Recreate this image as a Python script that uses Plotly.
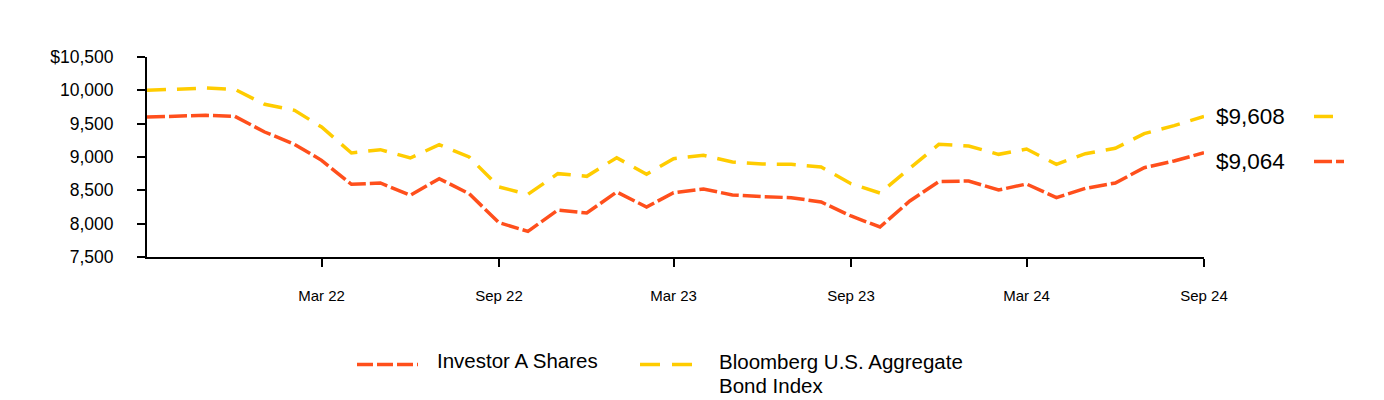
import plotly.graph_objects as go

months = [
    "2021-09-01", "2021-10-01", "2021-11-01", "2021-12-01",
    "2022-01-01", "2022-02-01", "2022-03-01", "2022-04-01", "2022-05-01", "2022-06-01",
    "2022-07-01", "2022-08-01", "2022-09-01", "2022-10-01", "2022-11-01", "2022-12-01",
    "2023-01-01", "2023-02-01", "2023-03-01", "2023-04-01", "2023-05-01", "2023-06-01",
    "2023-07-01", "2023-08-01", "2023-09-01", "2023-10-01", "2023-11-01", "2023-12-01",
    "2024-01-01", "2024-02-01", "2024-03-01", "2024-04-01", "2024-05-01", "2024-06-01",
    "2024-07-01", "2024-08-01", "2024-09-01",
]
investor_a = [9600, 9606, 9625, 9610, 9375, 9190, 8950, 8590, 8610, 8425, 8675, 8450,
              8015, 7885, 8205, 8160, 8475, 8250, 8465, 8520, 8430, 8405, 8390, 8325,
              8115, 7950, 8340, 8630, 8640, 8505, 8595, 8390, 8530, 8610, 8840, 8940, 9064]
bloomberg = [10000, 10015, 10035, 10015, 9790, 9700, 9450, 9060, 9110, 8985, 9185, 9000,
             8550, 8440, 8750, 8710, 8990, 8740, 8975, 9025, 8925, 8895, 8890, 8850,
             8600, 8460, 8825, 9190, 9165, 9040, 9120, 8890, 9050, 9130, 9350, 9470, 9608]

series_names = ["Investor A Shares", "Bloomberg U.S. Aggregate", "Bond Index"]
x_tickvals = ["2022-03-01", "2022-09-01", "2023-03-01", "2023-09-01", "2024-03-01", "2024-09-01"]
y_tickvals = [7500, 8000, 8500, 9000, 9500, 10000, 10500]
y_ticktext = ["7,500", "8,000", "8,500", "9,000", "9,500", "10,000", "$10,500"]

RED = "#FF4F1C"
YELLOW = "#FFCC00"
RED_DASH = "18px,4px"
YEL_DASH = "19px,11px"
FONT = "Liberation Sans, Arial, sans-serif"

# page body margin is removed (post_script), so figure pixels == page pixels
W, H = 1384, 400
PL, PR, PT, PB = 147, 1204, 57, 257  # plot area in page pixels
L, T, R, B = PL, PT, W - PR, H - PB
PW, PH = PR - PL, PB - PT


def px(x):
    return (x - PL) / PW


def py(y):
    return (PB - y) / PH


fig = go.Figure()
fig.add_trace(go.Scatter(x=months, y=bloomberg, mode="lines", name=series_names[1],
                         line=dict(color=YELLOW, width=3.5, dash=YEL_DASH), showlegend=False))
fig.add_trace(go.Scatter(x=months, y=investor_a, mode="lines", name=series_names[0],
                         line=dict(color=RED, width=3.5, dash=RED_DASH), showlegend=False))

shapes = [
    # end-of-line markers on the right
    dict(type="line", xref="paper", yref="y", x0=px(1314), x1=px(1335),
         y0=bloomberg[-1], y1=bloomberg[-1], line=dict(color=YELLOW, width=3.5, dash=YEL_DASH)),
    dict(type="line", xref="paper", yref="paper", x0=px(1314), x1=px(1344),
         y0=py(161.5), y1=py(161.5), line=dict(color=RED, width=3.5, dash=RED_DASH)),
    # legend samples
    dict(type="line", xref="paper", yref="paper", x0=px(357), x1=px(418),
         y0=py(364.5), y1=py(364.5), line=dict(color=RED, width=3.5, dash="16px,4px")),
    dict(type="line", xref="paper", yref="paper", x0=px(640), x1=px(692),
         y0=py(364.5), y1=py(364.5), line=dict(color=YELLOW, width=3.5, dash="20px,12px")),
]

annotations = [
    dict(xref="paper", yref="y", x=px(1214), y=bloomberg[-1], text=f"${bloomberg[-1]:,}",
         xanchor="left", yanchor="middle", showarrow=False, font=dict(size=22.5, color="black", family=FONT)),
    dict(xref="paper", yref="y", x=px(1214), y=investor_a[-1], yshift=-9, text=f"${investor_a[-1]:,}",
         xanchor="left", yanchor="middle", showarrow=False, font=dict(size=22.5, color="black", family=FONT)),
    dict(xref="paper", yref="paper", x=px(435), y=py(360.5), text=series_names[0],
         xanchor="left", yanchor="middle", showarrow=False, font=dict(size=20.5, color="black", family=FONT)),
    dict(xref="paper", yref="paper", x=px(717), y=py(361.5), text=series_names[1],
         xanchor="left", yanchor="middle", showarrow=False, font=dict(size=20.5, color="black", family=FONT)),
    dict(xref="paper", yref="paper", x=px(717), y=py(385.5), text=series_names[2],
         xanchor="left", yanchor="middle", showarrow=False, font=dict(size=20.5, color="black", family=FONT)),
]

fig.update_layout(
    width=W, height=H,
    margin=dict(l=L, r=R, t=T, b=B, pad=0),
    paper_bgcolor="white", plot_bgcolor="white",
    font=dict(family=FONT, color="black"),
    shapes=shapes, annotations=annotations,
    showlegend=False,
)
fig.update_xaxes(
    type="date", range=[months[0], months[-1]],
    tickvals=x_tickvals, tickformat="%b %y",
    showgrid=False, zeroline=False,
    showline=True, linecolor="black", linewidth=2,
    ticks="outside", ticklen=8, tickwidth=2, tickcolor="black",
    ticklabelstandoff=16,
    tickfont=dict(size=15, family=FONT, color="black"),
)
fig.update_yaxes(
    range=[7500, 10500], tickvals=y_tickvals, ticktext=y_ticktext,
    showgrid=False, zeroline=False,
    showline=True, linecolor="black", linewidth=2,
    ticks="outside", ticklen=8, tickwidth=2, tickcolor="black",
    ticklabelstandoff=20,
    tickfont=dict(size=17.5, family=FONT, color="black"),
)

fig.write_html(
    "out.html",
    config={"displayModeBar": False},
    post_script="document.body.style.margin='0px';document.body.style.overflow='hidden';",
)
